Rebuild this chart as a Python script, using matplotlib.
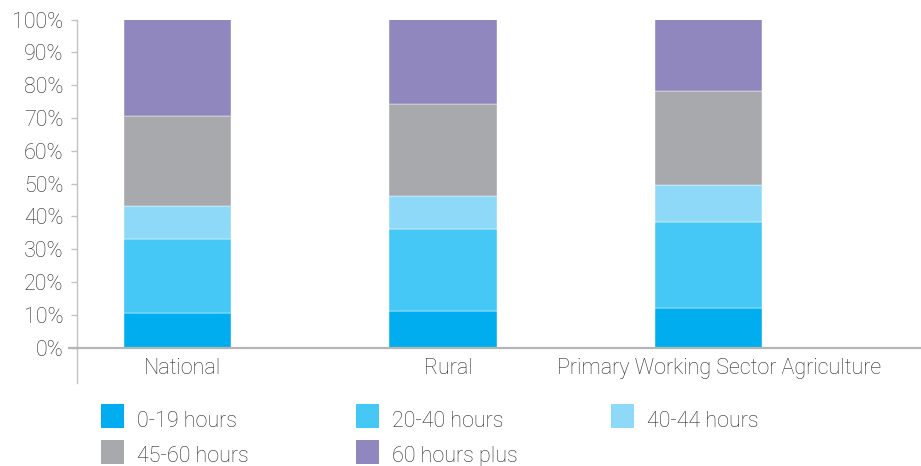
import matplotlib
matplotlib.use("Agg")
import matplotlib.pyplot as plt
import matplotlib.transforms as mtransforms
from matplotlib.patches import Rectangle
from matplotlib.lines import Line2D

categories = ["National", "Rural", "Primary Working Sector Agriculture"]
series_names = ["0-19 hours", "20-40 hours", "40-44 hours", "45-60 hours", "60 hours plus"]
h0_19 = [10.4, 11.0, 11.9]
h20_40 = [22.6, 25.0, 26.5]
h40_44 = [10.2, 10.3, 11.0]
h45_60 = [27.4, 28.0, 28.9]
h60_plus = [29.4, 25.7, 21.7]
yticks = [0, 10, 20, 30, 40, 50, 60, 70, 80, 90, 100]
ytick_labels = [f"{v}%" for v in yticks]

colors = ["#00AEEF", "#45C8F5", "#8FD9F8", "#A7A9AC", "#9087BF"]
text_color = "#2a2a2a"

plt.rcParams['font.family'] = ['Roboto', 'DejaVu Sans']
plt.rcParams['font.weight'] = 'light'
FS = 15.5

W, H = 921, 466
fig = plt.figure(figsize=(W / 100, H / 100), dpi=100)
ax_left, ax_right = 77 / W, 1.0
ax_bottom, ax_top = (H - 347.5) / H, (H - 19.5) / H
ax = fig.add_axes([ax_left, ax_bottom, ax_right - ax_left, ax_top - ax_bottom])

series = [h0_19, h20_40, h40_44, h45_60, h60_plus]
x = list(range(len(categories)))
bottom = [0.0] * len(categories)
for vals, c, name in zip(series, colors, series_names):
    ax.bar(x, vals, width=0.405, bottom=bottom, color=c, edgecolor="white",
           linewidth=0.3, label=name, zorder=2)
    bottom = [b + v for b, v in zip(bottom, vals)]

ax.set_ylim(0, 100)
ax.set_xlim(-0.379, 2.80)
ax.set_yticks(yticks)
ax.set_yticklabels(ytick_labels, fontsize=FS, color=text_color)
ax.set_xticks(x)
ax.set_xticklabels(categories, fontsize=FS, color=text_color)
ax.tick_params(axis="x", length=0, pad=7.5)
ax.tick_params(axis="y", length=4.3, width=1, color="#c4c4c4", pad=5.5)
label_shift_px = [5, 5, 10]
for lab, dx in zip(ax.get_xticklabels(), label_shift_px):
    shift = mtransforms.ScaledTranslation(dx / 100, 0, fig.dpi_scale_trans)
    lab.set_transform(lab.get_transform() + shift)

for s in ["top", "right", "left"]:
    ax.spines[s].set_visible(False)
ax.spines["bottom"].set_color("#b5b5b5")
ax.spines["bottom"].set_linewidth(1.6)
ax.spines["bottom"].set_zorder(3)

# left axis line extending below the category axis
ax.add_line(Line2D([0, 0], [-0.108, 1.0], transform=ax.transAxes,
                   color="#c4c4c4", linewidth=1.0, clip_on=False))
# bottom axis extending left
ax.add_line(Line2D([-8 / 844, 0], [0, 0], transform=ax.transAxes,
                   color="#b5b5b5", linewidth=1.6, clip_on=False))

# legend, row-major in three columns
col_x = [101, 356, 611]
row_top = [404, 440]
baseline = [427, 462]
sq_w, sq_h = 23, 24
for i, (name, c) in enumerate(zip(series_names, colors)):
    r, k = divmod(i, 3)
    x0 = col_x[k]
    fig.patches.append(Rectangle((x0 / W, (H - row_top[r] - sq_h) / H), sq_w / W, sq_h / H,
                                 transform=fig.transFigure, facecolor=c,
                                 edgecolor="none"))
    fig.text((x0 + 36) / W, (H - baseline[r]) / H, name, fontsize=FS, color=text_color,
             va="baseline", ha="left")

fig.savefig("out.png", dpi=100)
